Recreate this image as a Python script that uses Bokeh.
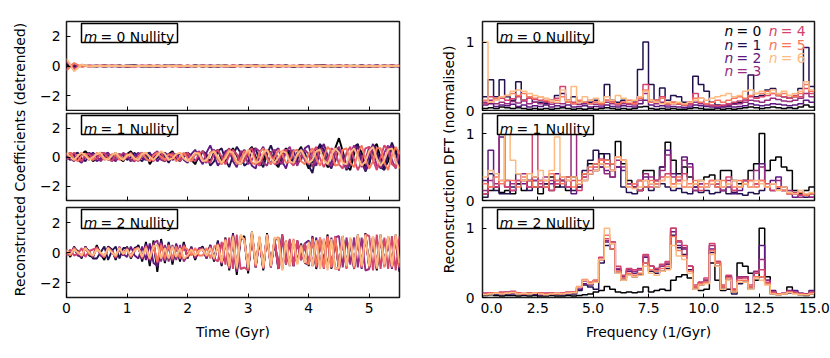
import math
import numpy as np
from bokeh.plotting import figure
from bokeh.layouts import row, column
from bokeh.models import Range1d, FixedTicker, Label, BoxAnnotation
from bokeh.embed import file_html
from bokeh.resources import INLINE

# ---------------- data ----------------
n_labels = ["0", "1", "2", "3", "4", "5", "6"]
colors = ["#000004", "#231151", "#5f187f", "#982d80", "#d3436e", "#f8765c", "#febb81"]
m_labels = ["0", "1", "2"]

time_max = 5.5
freq_step = 0.25
coef_ticks_x = [0, 1, 2, 3, 4, 5]
coef_ticks_y = [-2, 0, 2]
dft_ticks_x = [0, 2.5, 5, 7.5, 10, 12.5, 15]
dft_ticks_y = [0, 1]

# m = 0 reconstructed coefficients (detrended)
m0_n0 = [0.1, -0.05, 0.02, 0.0, -0.04, 0.03, -0.02, 0.04, -0.05, 0.02, 0.0, -0.06, 0.03, -0.02, 0.05, -0.04, 0.02, -0.03, 0.04, -0.06, 0.03, 0.0, -0.05, 0.04, -0.03, 0.05, -0.06, 0.02, -0.02, 0.04, -0.05, 0.03, -0.04, 0.02, 0.05, -0.06, 0.03, -0.02, 0.04, -0.05, 0.02, -0.03, 0.04, -0.06, 0.02]
m0_n1 = [0.2, -0.1, 0.03, -0.02, 0.04, -0.05, 0.02, -0.06, 0.03, 0.05, -0.04, 0.02, -0.05, 0.04, -0.02, 0.03, -0.06, 0.05, -0.03, 0.02, -0.05, 0.06, -0.04, 0.03, -0.07, 0.04, -0.02, 0.05, -0.06, 0.03, -0.04, 0.05, -0.03, 0.04, -0.06, 0.02, -0.05, 0.04, -0.03, 0.05, -0.07, 0.03, -0.04, 0.05, -0.03]
m0_n2 = [-0.2, 0.08, -0.03, 0.04, -0.02, 0.05, -0.04, 0.03, -0.05, 0.02, -0.03, 0.05, -0.06, 0.03, -0.02, 0.04, -0.05, 0.03, -0.04, 0.05, -0.03, 0.02, -0.06, 0.04, -0.02, 0.03, -0.05, 0.06, -0.03, 0.02, -0.04, 0.05, -0.06, 0.03, -0.02, 0.04, -0.05, 0.03, -0.06, 0.04, -0.02, 0.05, -0.04, 0.03, -0.05]
m0_n3 = [0.3, -0.15, 0.05, -0.03, 0.02, -0.04, 0.05, -0.02, 0.03, -0.05, 0.04, -0.03, 0.02, -0.05, 0.06, -0.03, 0.02, -0.04, 0.05, -0.02, 0.03, -0.06, 0.04, -0.03, 0.05, -0.02, 0.03, -0.05, 0.04, -0.06, 0.02, -0.03, 0.05, -0.04, 0.03, -0.02, 0.06, -0.04, 0.02, -0.05, 0.03, -0.04, 0.06, -0.02, 0.03]
m0_n4 = [0.35, -0.25, 0.08, -0.04, 0.03, -0.02, 0.04, -0.03, 0.02, -0.04, 0.03, -0.02, 0.04, -0.03, 0.02, -0.05, 0.03, -0.02, 0.04, -0.03, 0.02, -0.04, 0.05, -0.02, 0.03, -0.04, 0.02, -0.03, 0.05, -0.02, 0.03, -0.05, 0.02, -0.03, 0.04, -0.02, 0.03, -0.04, 0.02, -0.03, 0.04, -0.05, 0.02, -0.03, 0.04]
m0_n5 = [-0.3, 0.2, -0.06, 0.03, -0.02, 0.03, -0.02, 0.02, -0.03, 0.02, -0.02, 0.03, -0.02, 0.02, -0.03, 0.03, -0.02, 0.02, -0.03, 0.02, -0.02, 0.03, -0.03, 0.02, -0.02, 0.03, -0.02, 0.02, -0.03, 0.02, -0.02, 0.03, -0.02, 0.03, -0.03, 0.02, -0.02, 0.03, -0.02, 0.02, -0.03, 0.02, -0.02, 0.03, -0.02]
m0_n6 = [0.5, -0.35, 0.1, -0.04, 0.02, -0.02, 0.02, -0.01, 0.02, -0.02, 0.01, -0.02, 0.02, -0.01, 0.02, -0.02, 0.01, -0.02, 0.02, -0.01, 0.02, -0.02, 0.01, -0.02, 0.02, -0.01, 0.02, -0.02, 0.01, -0.02, 0.02, -0.01, 0.02, -0.02, 0.01, -0.02, 0.02, -0.01, 0.02, -0.02, 0.01, -0.02, 0.02, -0.01, 0.02]

# m = 1 reconstructed coefficients (detrended)
m1_n0 = [0.1, 0.3, 0.0, -0.2, 0.2, 0.4, 0.1, -0.3, -0.1, 0.3, 0.2, -0.2, 0.0, 0.3, -0.1, -0.3,
         0.2, 0.4, 0.0, -0.2, 0.1, 0.3, -0.5, -0.1, 0.3, 0.1, -0.3, 0.2, 0.4, -0.1, -0.3, 0.2,
         0.3, -0.2, -0.5, 0.1, 0.4, 0.0, -0.3, 0.3, 0.5, -0.2, -0.4, 0.2, 0.6, 0.1, -0.5, -0.2,
         0.4, 0.7, 0.0, -0.6, -0.3, 0.5, 0.3, -0.4, -0.7, 0.2, 0.6, 0.1, -0.5, 0.3, 0.7, -0.2,
         -0.8, -0.3, 0.5, 0.8, 0.0, -0.7, -0.5, 0.6, 1.3, 0.4, -0.6, -0.9, 0.2, 0.8, 0.3, -0.7,
         -0.5, 0.6, 0.9, -0.1, -0.8, -0.3, 0.7, 0.5, -0.6]
m1_n1 = [0.0, -0.2, 0.2, 0.3, -0.1, -0.3, 0.1, 0.3, 0.0, -0.2, 0.2, 0.1, -0.3, 0.0, 0.2, 0.1,
         -0.2, 0.0, 0.3, -0.1, -0.3, 0.2, 0.3, -0.2, -0.1, 0.3, 0.0, -0.4, 0.1, 0.2, -0.2, 0.0,
         0.3, 0.1, -0.3, -0.1, 0.4, 0.2, -0.6, -0.3, 0.4, 0.6, -0.2, -0.7, 0.1, 0.7, 0.3, -0.6,
         -0.4, 0.5, 0.6, -0.3, -0.7, 0.2, 0.8, 0.1, -0.6, -0.3, 0.5, 0.4, -0.5, -0.2, 0.6, 0.3,
         -0.6, -1.1, 0.2, 0.9, 0.5, -0.4, -0.8, 0.3, 0.6, -0.2, -0.9, -0.4, 0.7, 0.9, -0.3, -1.0,
         -0.4, 0.8, 0.5, -0.7, -0.9, 0.2, 1.0, 0.3, -0.5]
m1_n2 = [-0.1, 0.2, 0.1, -0.2, -0.4, 0.0, 0.3, 0.1, -0.3, -0.1, 0.2, 0.3, -0.1, -0.3, 0.1, 0.2,
         0.0, -0.3, 0.1, 0.3, -0.1, -0.2, 0.2, 0.1, -0.3, 0.0, 0.3, 0.1, -0.2, -0.1, 0.3, -0.2,
         -0.4, 0.2, 0.5, -0.1, -0.5, 0.3, 0.8, 0.1, -0.6, -0.2, 0.4, 0.5, -0.3, -0.7, 0.2, 0.5,
         0.0, -0.6, -0.8, 0.3, 0.7, 0.0, -0.5, 0.4, 0.6, -0.3, -0.8, 0.1, 0.5, -0.4, -0.2, 0.6,
         0.8, -0.2, -0.6, 0.4, 0.9, 0.1, -0.7, -0.3, 0.5, 0.2, -0.8, -0.5, 0.6, 0.7, -0.4, -0.9,
         0.2, 0.9, 0.1, -0.8, -0.5, 0.6, 0.8, -0.3, -0.6]
m1_n3 = [0.2, -0.1, -0.3, 0.1, 0.3, 0.0, -0.2, 0.2, 0.1, -0.3, 0.0, 0.2, 0.1, -0.2, -0.1, 0.3,
         0.1, -0.2, -0.3, 0.2, 0.3, -0.1, -0.3, 0.2, 0.4, -0.2, -0.3, 0.1, 0.3, 0.0, -0.2, 0.2,
         0.1, -0.3, 0.2, 0.4, -0.2, -0.4, 0.3, 0.5, -0.1, -0.5, 0.2, 0.6, 0.0, -0.4, 0.4, 0.3,
         -0.5, -0.2, 0.6, 0.4, -0.4, -0.6, 0.3, 0.5, -0.2, -0.5, 0.4, 0.7, -0.1, -0.6, 0.1, 0.5,
         0.2, -0.7, -0.1, 0.6, 0.3, -0.5, -0.6, 0.4, 0.7, -0.3, -0.8, 0.2, 0.8, 0.1, -0.7, -0.2,
         0.7, 0.4, -0.6, -0.7, 0.3, 0.8, -0.2, -0.8, 0.4]
m1_n4 = [-0.2, 0.1, 0.3, 0.0, -0.3, 0.2, 0.2, -0.2, -0.1, 0.2, 0.3, -0.1, -0.3, 0.1, 0.2, -0.2,
         0.0, 0.3, -0.1, -0.3, 0.1, 0.2, 0.0, -0.3, 0.2, 0.3, -0.2, -0.2, 0.2, 0.1, -0.3, 0.1,
         0.3, -0.1, -0.3, 0.2, 0.4, -0.2, -0.4, 0.2, 0.5, 0.0, -0.5, 0.1, 0.5, 0.2, -0.4, -0.3,
         0.4, 0.6, -0.2, -0.6, 0.1, 0.5, 0.2, -0.5, -0.4, 0.4, 0.5, -0.3, -0.6, 0.2, 0.4, -0.2,
         -0.5, 0.3, 0.7, -0.1, -0.7, -0.2, 0.6, 0.4, -0.5, -0.8, 0.3, 0.7, -0.2, -0.9, -0.3, 0.6,
         0.7, -0.2, -0.9, 0.0, 0.8, 0.5, -0.5, -0.7, 0.5]
m1_n5 = [0.1, 0.3, -0.1, -0.3, 0.1, 0.2, -0.1, -0.2, 0.3, 0.1, -0.2, -0.1, 0.2, 0.2, -0.2, -0.1,
         0.2, 0.1, -0.2, 0.0, 0.3, -0.1, -0.3, 0.1, 0.3, 0.0, -0.2, 0.2, 0.1, -0.3, 0.0, 0.3,
         -0.1, -0.3, 0.2, 0.3, -0.2, -0.3, 0.3, 0.4, -0.2, -0.5, 0.1, 0.5, 0.1, -0.5, -0.2, 0.4,
         0.3, -0.4, -0.5, 0.3, 0.6, -0.1, -0.5, 0.0, 0.5, 0.2, -0.4, -0.3, 0.4, 0.5, -0.3, -0.5,
         0.2, 0.6, -0.1, -0.6, 0.0, 0.7, 0.4, -0.6, -0.5, 0.5, 0.6, -0.4, -0.7, 0.3, 0.8, -0.1,
         -0.8, -0.3, 0.6, 0.6, -0.4, -0.9, 0.1, 0.7, 0.2]
m1_n6 = [0.3, 0.0, -0.2, 0.1, 0.3, 0.1, -0.2, 0.0, 0.2, 0.3, -0.1, -0.2, 0.1, 0.3, 0.0, -0.2,
         0.1, 0.2, -0.1, -0.2, 0.2, 0.3, 0.0, -0.2, 0.1, 0.4, 0.2, -0.2, -0.1, 0.2, 0.3, -0.1,
         -0.3, 0.0, 0.3, 0.2, -0.3, -0.2, 0.2, 0.4, 0.0, -0.4, -0.1, 0.4, 0.3, -0.3, -0.5, 0.1,
         0.5, 0.2, -0.4, -0.3, 0.3, 0.5, -0.1, -0.4, 0.0, 0.4, 0.3, -0.3, -0.4, 0.2, 0.5, 0.0,
         -0.4, -0.2, 0.4, 0.5, -0.2, -0.5, 0.1, 0.6, 0.3, -0.4, -0.5, 0.3, 0.6, 0.0, -0.6, -0.3,
         0.4, 0.7, -0.1, -0.6, -0.2, 0.5, 0.6, -0.3, -0.8]

# m = 2 reconstructed coefficients (detrended)
m2_n0 = [0.2, -0.3, 0.3, 0.1, -0.4, 0.4, -0.2, -0.3, 0.5, -0.1, -0.5, 0.4, 0.2, -0.5, 0.3, -0.2,
         0.4, -0.4, 0.1, 0.5, -0.6, 0.7, -0.9, 0.8, -1.3, 0.9, -0.7, 0.6, -0.8, 0.5, -0.6, 0.7,
         -0.4, 0.3, -0.5, 0.2, 0.4, -0.3, 0.5, -0.6, 0.7, -0.9, 1.0, -1.2, 1.2, -1.5, 0.9, 1.1,
         -1.4, 1.4, -0.8, 0.9, -1.2, 1.3, -0.9, 0.7, -1.1, 1.2, -0.6, 0.8, -0.9, 0.7, -0.5, 0.6,
         -0.9, 1.0, -1.1, 0.8, -0.7, 1.2, -1.0, 0.9, -1.2, 1.1, -0.8, 0.7, -1.1, 1.2, -0.9, 1.3,
         -1.0, 0.9, -1.2, 1.1, -0.7, 1.0, -0.9, 1.2, -1.3]
m2_n1 = [0.1, -0.2, 0.4, -0.1, -0.3, 0.3, 0.1, -0.4, -0.4, 0.0, 0.4, -0.5, 0.1, 0.4, -0.4, 0.3,
         0.3, -0.3, 0.3, 0.4, -0.5, 0.6, -0.7, 0.6, -1.0, 0.8, -0.5, 0.7, -0.6, 0.4, -0.5, 0.6,
         -0.3, 0.4, -0.4, 0.1, 0.3, -0.4, 0.4, -0.5, 0.8, -0.8, 0.9, -1.1, 1.3, -1.2, 1.0, 0.9,
         -1.2, 1.3, -1.0, 1.0, -1.1, 1.1, -1.0, 0.8, 1.0, -1.1, 0.7, -0.9, 0.8, -0.6, 0.6, -0.7,
         -0.8, 1.1, -1.0, 0.9, -0.8, 1.1, -1.1, 1.0, -1.1, 1.0, -0.9, 0.8, -1.0, 1.1, -1.0, 1.2,
         -0.9, 1.0, -1.1, 1.2, -0.8, 0.9, -1.0, 1.1, -1.2]
m2_n2 = [0.2, -0.1, 0.3, -0.2, -0.3, 0.4, -0.1, -0.3, 0.4, -0.2, -0.3, 0.4, 0.1, -0.4, 0.3, -0.1,
         -0.3, 0.4, -0.2, -0.4, 0.4, -0.5, 0.6, -0.7, -0.9, 0.7, -0.6, 0.5, -0.6, 0.6, -0.4, 0.5,
         -0.3, 0.3, -0.4, 0.3, 0.2, -0.4, 0.5, -0.5, 0.6, -0.8, 0.9, -1.0, 1.1, -1.3, 1.1, 0.8,
         -1.2, 1.2, -1.0, 0.8, -1.0, 1.2, -0.8, 0.9, -1.1, 1.0, -0.8, 0.7, -0.9, 0.8, -0.4, 0.6,
         0.8, -0.9, 1.0, -1.0, 0.9, -1.0, 1.0, -1.1, -1.0, 0.9, -1.0, 0.9, -0.9, 1.0, -1.1, 1.1,
         -1.0, 1.1, -1.0, 1.0, -0.9, 1.1, -1.1, 1.0, -1.1]
m2_n3 = [0.1, -0.2, 0.3, 0.0, -0.3, 0.3, 0.0, -0.3, 0.3, -0.1, -0.3, 0.3, 0.1, -0.3, 0.4, -0.2,
         0.3, -0.3, 0.2, 0.3, -0.4, 0.5, -0.5, 0.6, 0.8, -0.6, 0.5, -0.6, 0.5, -0.5, 0.5, -0.6,
         -0.2, 0.3, -0.3, 0.2, 0.3, -0.3, 0.4, -0.5, 0.6, -0.7, 0.9, -1.1, 1.2, -1.2, 1.0, 0.9,
         -1.1, 1.3, -0.9, 0.9, -1.0, 1.1, -0.9, 0.8, -1.0, 1.1, -0.7, 0.8, -0.8, 0.7, -0.5, 0.5,
         -0.7, 1.0, -0.9, 0.9, -1.0, 1.1, -0.9, 1.0, 1.1, -1.0, 1.0, -0.8, 1.0, -1.0, 1.0, -1.2,
         -1.1, 1.0, -1.0, 1.1, -0.9, 1.0, -1.0, 1.1, -1.0]
m2_n4 = [-0.2, 0.2, -0.2, -0.1, 0.3, -0.3, 0.1, 0.2, 0.3, -0.1, -0.3, 0.3, 0.1, -0.3, 0.3, -0.1,
         0.3, -0.3, 0.2, 0.3, -0.4, 0.4, -0.5, 0.5, -0.7, 0.6, -0.5, 0.5, -0.5, 0.4, -0.4, 0.5,
         -0.3, 0.2, -0.3, 0.2, 0.2, -0.3, 0.4, -0.4, -0.6, 0.7, -0.8, 1.0, -1.1, 1.2, -1.1, -1.0,
         -1.2, 1.2, -1.0, 1.0, -1.1, 1.2, -1.0, 0.9, -1.1, 1.2, -0.8, 0.9, -0.9, 0.8, -0.5, 0.6,
         -0.8, 1.0, -1.0, 1.0, -1.1, 1.0, -1.0, 1.1, -1.2, 1.0, -1.1, 0.9, -1.1, 1.1, -1.0, 1.2,
         1.1, -1.2, 1.2, -1.1, 1.0, -1.1, 1.1, -1.2, 1.1]
m2_n5 = [0.1, -0.2, 0.3, 0.0, -0.2, 0.3, -0.1, -0.2, 0.3, 0.0, -0.3, 0.3, 0.0, -0.3, 0.3, -0.1,
         0.2, -0.3, 0.2, 0.3, -0.3, 0.4, -0.4, 0.5, -0.6, 0.5, -0.4, 0.5, -0.4, 0.4, -0.4, 0.4,
         0.2, -0.2, 0.3, -0.2, -0.2, 0.3, -0.4, 0.4, 0.5, -0.7, 0.9, -1.0, 1.1, -1.1, 1.0, 0.9,
         -1.1, 1.2, -0.9, 1.0, -1.0, 1.1, -0.9, 0.9, 1.0, -1.1, 0.8, -0.8, 0.9, -0.7, 0.5, -0.6,
         -0.8, 0.9, -0.9, 1.0, -1.0, 1.1, -1.0, 1.0, -1.1, 1.0, -1.0, 0.9, -1.0, 1.1, -1.0, 1.1,
         -1.0, 1.1, -1.1, 1.0, -1.0, 1.1, -1.0, 1.1, -1.0]
m2_n6 = [0.2, -0.1, 0.2, 0.0, -0.2, 0.3, 0.0, -0.2, 0.2, 0.0, -0.2, 0.3, 0.0, -0.2, 0.3, -0.1,
         0.2, -0.2, 0.1, 0.3, -0.3, 0.3, -0.4, 0.4, 0.5, -0.4, 0.3, -0.4, 0.4, -0.3, 0.3, -0.4,
         -0.2, 0.2, -0.2, 0.1, 0.2, -0.2, 0.3, -0.4, 0.5, -0.6, 0.8, -0.9, 1.0, -1.0, 1.2, 0.8,
         -1.0, 1.4, -0.8, 1.1, -1.0, 1.2, -0.9, 1.0, 0.9, -1.2, 0.7, -0.9, 0.8, -0.8, 0.4, -0.7,
         0.7, -0.9, 0.8, -1.1, 0.9, -1.2, 0.9, -1.1, -1.0, 1.1, -0.9, 1.0, -0.9, 1.2, -0.9, 1.2,
         -0.9, 1.1, -1.0, 1.2, -0.8, 1.1, -0.9, 1.2, -0.7]

# normalised DFT amplitudes, one value per frequency bin (0 - 15 /Gyr)
dft_m0_n0 = [0.03, 0.04, 0.03, 0.05, 0.04, 0.03, 0.04, 0.03, 0.02, 0.03,
             0.02, 0.03, 0.02, 0.03, 0.04, 0.03, 0.02, 0.03, 0.02, 0.03,
             0.02, 0.03, 0.04, 0.03, 0.02, 0.03, 0.02, 0.03, 0.05, 0.06,
             0.03, 0.02, 0.03, 0.02, 0.03, 0.02, 0.02, 0.03, 0.04, 0.03,
             0.02, 0.02, 0.03, 0.02, 0.03, 0.02, 0.03, 0.04, 0.05, 0.04,
             0.03, 0.04, 0.05, 0.04, 0.03, 0.04, 0.03, 0.05, 0.08, 0.05]
dft_m0_n1 = [0.2, 0.45, 0.2, 0.45, 0.2, 0.15, 0.42, 0.15, 0.18, 0.12,
             0.12, 0.1, 0.15, 0.22, 0.25, 0.15, 0.2, 0.12, 0.1, 0.12,
             0.15, 0.1, 0.38, 0.15, 0.12, 0.15, 0.1, 0.12, 0.6, 1.0,
             0.38, 0.15, 0.33, 0.15, 0.22, 0.2, 0.12, 0.12, 0.5, 0.38,
             0.28, 0.12, 0.08, 0.06, 0.08, 0.1, 0.12, 0.15, 0.52, 0.2,
             0.22, 0.3, 0.32, 0.22, 0.2, 0.18, 0.2, 0.32, 0.92, 0.35]
dft_m0_n2 = [0.08, 0.1, 0.06, 0.08, 0.07, 0.09, 0.06, 0.08, 0.05, 0.07,
             0.06, 0.08, 0.05, 0.07, 0.06, 0.08, 0.05, 0.06, 0.07, 0.05,
             0.06, 0.05, 0.08, 0.06, 0.05, 0.07, 0.06, 0.05, 0.1, 0.15,
             0.08, 0.06, 0.07, 0.05, 0.06, 0.05, 0.04, 0.05, 0.08, 0.07,
             0.06, 0.05, 0.04, 0.05, 0.06, 0.05, 0.06, 0.07, 0.1, 0.08,
             0.07, 0.08, 0.1, 0.09, 0.08, 0.07, 0.08, 0.1, 0.15, 0.12]
dft_m0_n3 = [0.12, 0.15, 0.1, 0.12, 0.1, 0.13, 0.11, 0.14, 0.1, 0.12,
             0.1, 0.12, 0.09, 0.11, 0.1, 0.12, 0.1, 0.09, 0.11, 0.1,
             0.09, 0.08, 0.12, 0.1, 0.08, 0.1, 0.09, 0.08, 0.15, 0.25,
             0.12, 0.1, 0.12, 0.08, 0.1, 0.09, 0.07, 0.08, 0.12, 0.1,
             0.08, 0.07, 0.06, 0.07, 0.08, 0.09, 0.1, 0.12, 0.15, 0.14,
             0.12, 0.15, 0.18, 0.16, 0.14, 0.13, 0.15, 0.18, 0.25, 0.2]
dft_m0_n4 = [0.1, 0.2, 0.15, 0.18, 0.15, 0.17, 0.2, 0.15, 0.18, 0.16,
             0.15, 0.13, 0.15, 0.18, 0.35, 0.15, 0.12, 0.14, 0.12, 0.15,
             0.12, 0.1, 0.15, 0.13, 0.1, 0.12, 0.1, 0.12, 0.2, 0.38,
             0.15, 0.12, 0.2, 0.1, 0.12, 0.1, 0.08, 0.1, 0.25, 0.18,
             0.1, 0.08, 0.07, 0.08, 0.1, 0.12, 0.14, 0.15, 0.2, 0.18,
             0.2, 0.22, 0.25, 0.22, 0.2, 0.18, 0.22, 0.2, 0.32, 0.25]
dft_m0_n5 = [0.15, 0.12, 0.18, 0.2, 0.22, 0.25, 0.22, 0.25, 0.2, 0.18,
             0.2, 0.15, 0.12, 0.15, 0.2, 0.12, 0.1, 0.15, 0.12, 0.1,
             0.12, 0.1, 0.15, 0.12, 0.1, 0.12, 0.15, 0.1, 0.18, 0.3,
             0.12, 0.15, 0.18, 0.1, 0.12, 0.1, 0.08, 0.12, 0.18, 0.12,
             0.1, 0.12, 0.15, 0.12, 0.15, 0.18, 0.2, 0.18, 0.22, 0.25,
             0.25, 0.28, 0.25, 0.22, 0.25, 0.22, 0.2, 0.25, 0.38, 0.28]
dft_m0_n6 = [1.0, 0.12, 0.15, 0.2, 0.22, 0.28, 0.3, 0.28, 0.25, 0.22,
             0.2, 0.18, 0.15, 0.12, 0.3, 0.15, 0.35, 0.12, 0.2, 0.15,
             0.18, 0.12, 0.2, 0.15, 0.22, 0.18, 0.12, 0.15, 0.2, 0.28,
             0.15, 0.12, 0.1, 0.12, 0.1, 0.12, 0.1, 0.12, 0.15, 0.18,
             0.15, 0.18, 0.2, 0.22, 0.25, 0.2, 0.22, 0.28, 0.3, 0.25,
             0.28, 0.25, 0.3, 0.25, 0.28, 0.22, 0.25, 0.28, 0.42, 0.3]

dft_m1_n0 = [0.1, 0.15, 0.2, 0.12, 0.15, 0.1, 0.25, 0.15, 0.3, 0.2,
             0.1, 0.25, 0.35, 0.2, 0.3, 0.15, 0.35, 0.2, 0.4, 0.55,
             0.55, 0.7, 0.6, 0.55, 0.88, 0.55, 0.3, 0.2, 0.15, 0.45,
             0.45, 0.3, 0.5, 0.87, 0.6, 0.4, 0.5, 0.35, 0.2, 0.3,
             0.35, 0.38, 0.25, 0.45, 0.45, 0.3, 0.25, 0.3, 0.45, 0.55,
             1.0, 0.45, 0.6, 0.65, 0.5, 0.45, 0.15, 0.1, 0.15, 0.2]
dft_m1_n1 = [0.05, 0.4, 0.15, 0.1, 0.1, 0.2, 0.25, 0.3, 0.15, 0.3,
             0.2, 0.25, 0.15, 0.3, 0.2, 0.35, 0.15, 0.2, 0.45, 0.6,
             0.75, 0.5, 0.7, 0.45, 0.5, 0.2, 0.12, 0.1, 0.15, 0.2,
             0.15, 0.2, 0.25, 0.2, 0.15, 0.18, 0.12, 0.1, 0.15, 0.12,
             0.15, 0.1, 0.12, 0.15, 0.1, 0.12, 0.1, 0.08, 0.12, 0.1,
             0.15, 0.2, 0.15, 0.18, 0.15, 0.12, 0.1, 0.08, 0.05, 0.1]
dft_m1_n2 = [0.3, 0.75, 0.2, 0.95, 0.3, 0.15, 0.4, 0.25, 0.3, 0.35,
             0.3, 0.2, 0.25, 0.4, 0.3, 0.2, 0.1, 0.25, 0.3, 0.4,
             0.45, 0.5, 0.45, 0.35, 0.5, 0.45, 0.25, 0.2, 0.3, 0.35,
             0.25, 0.3, 0.5, 0.75, 0.4, 0.3, 0.65, 0.55, 0.2, 0.25,
             0.2, 0.25, 0.3, 0.15, 0.2, 0.1, 0.15, 0.3, 0.2, 0.25,
             0.55, 0.2, 0.3, 0.35, 0.2, 0.1, 0.05, 0.08, 0.1, 0.05]
dft_m1_n3 = [0.15, 0.3, 0.25, 1.0, 0.2, 0.25, 0.3, 0.4, 0.2, 0.3,
             0.25, 0.35, 0.3, 0.25, 0.3, 0.3, 1.0, 0.25, 0.35, 0.4,
             0.45, 0.55, 0.4, 0.35, 0.6, 0.5, 0.25, 0.2, 0.3, 0.4,
             0.35, 0.25, 0.45, 0.68, 0.35, 0.3, 0.6, 0.5, 0.15, 0.25,
             0.2, 0.25, 0.2, 0.15, 0.3, 0.15, 0.2, 0.25, 0.3, 0.45,
             0.5, 0.2, 0.25, 0.3, 0.2, 0.15, 0.1, 0.05, 0.08, 0.05]
dft_m1_n4 = [0.1, 0.2, 0.2, 0.3, 0.2, 0.15, 0.3, 0.3, 0.2, 1.0,
             0.2, 0.3, 0.15, 0.25, 0.35, 0.2, 0.3, 0.15, 0.35, 0.45,
             0.5, 0.62, 0.55, 0.45, 0.65, 0.6, 0.2, 0.25, 0.15, 0.3,
             0.2, 0.3, 0.35, 0.4, 0.25, 0.3, 0.4, 0.2, 0.25, 0.15,
             0.2, 0.3, 0.25, 0.2, 0.35, 0.15, 0.2, 0.3, 0.2, 0.25,
             0.3, 0.25, 0.15, 0.2, 0.15, 0.1, 0.12, 0.08, 0.1, 0.1]
dft_m1_n5 = [0.25, 0.2, 0.35, 0.25, 0.3, 0.3, 0.2, 0.35, 0.3, 0.2,
             0.3, 0.2, 0.4, 0.3, 0.25, 0.35, 0.2, 0.3, 0.4, 0.5,
             0.55, 0.6, 0.6, 0.55, 0.65, 0.6, 0.2, 0.25, 0.3, 0.2,
             0.3, 0.25, 0.3, 0.35, 0.25, 0.35, 0.2, 0.25, 0.3, 0.2,
             0.25, 0.3, 0.2, 0.3, 0.25, 0.2, 0.3, 0.25, 0.3, 0.2,
             0.3, 0.2, 0.25, 0.2, 0.15, 0.1, 0.1, 0.12, 0.08, 0.1]
dft_m1_n6 = [0.35, 0.45, 0.4, 0.3, 1.0, 0.6, 0.4, 0.3, 0.4, 0.35,
             0.45, 0.3, 0.45, 0.95, 0.35, 0.3, 0.35, 0.25, 0.3, 0.4,
             0.45, 0.55, 0.5, 0.45, 0.65, 0.6, 0.2, 0.18, 0.2, 0.3,
             0.25, 0.2, 0.3, 0.35, 0.2, 0.25, 0.3, 0.2, 0.25, 0.3,
             0.2, 0.25, 0.3, 0.2, 0.25, 0.3, 0.2, 0.25, 0.2, 0.3,
             0.25, 0.2, 0.25, 0.15, 0.2, 0.12, 0.1, 0.15, 0.1, 0.12]

dft_m2_n0 = [0.03, 0.04, 0.03, 0.02, 0.03, 0.03, 0.02, 0.03, 0.02, 0.03, 0.02, 0.02, 0.03, 0.02, 0.02, 0.03,
             0.02, 0.03, 0.04, 0.05, 0.08, 0.1, 0.16, 0.12, 0.08, 0.07, 0.08, 0.07, 0.08, 0.15, 0.08, 0.1,
             0.12, 0.1, 0.25, 0.3, 0.33, 0.28, 0.15, 0.1, 0.12, 0.5, 0.25, 0.1, 0.12, 0.08, 0.5, 0.45,
             0.35, 0.25, 1.0, 0.3, 0.08, 0.05, 0.05, 0.15, 0.06, 0.04, 0.03, 0.05]
dft_m2_n1 = [0.05, 0.06, 0.05, 0.04, 0.05, 0.06, 0.05, 0.04, 0.05, 0.04, 0.05, 0.04, 0.04, 0.05, 0.04, 0.05,
             0.05, 0.1, 0.18, 0.15, 0.12, 0.5, 0.75, 0.7, 0.35, 0.25, 0.32, 0.3, 0.33, 0.5, 0.38, 0.35,
             0.38, 0.42, 0.9, 0.72, 0.62, 0.4, 0.12, 0.18, 0.22, 0.65, 0.45, 0.12, 0.25, 0.05, 0.2, 0.22,
             0.12, 0.3, 0.3, 0.2, 0.05, 0.04, 0.05, 0.06, 0.07, 0.05, 0.04, 0.05]
dft_m2_n2 = [0.06, 0.05, 0.06, 0.05, 0.07, 0.05, 0.06, 0.05, 0.06, 0.05, 0.04, 0.05, 0.06, 0.05, 0.05, 0.06,
             0.06, 0.12, 0.2, 0.18, 0.22, 0.55, 0.8, 0.78, 0.4, 0.28, 0.38, 0.35, 0.4, 0.58, 0.45, 0.4,
             0.45, 0.48, 0.95, 0.75, 0.7, 0.45, 0.15, 0.2, 0.25, 0.7, 0.5, 0.15, 0.3, 0.1, 0.28, 0.3,
             0.15, 0.35, 0.75, 0.25, 0.1, 0.05, 0.06, 0.08, 0.1, 0.06, 0.05, 0.1]
dft_m2_n3 = [0.05, 0.06, 0.07, 0.06, 0.08, 0.07, 0.06, 0.05, 0.06, 0.07, 0.05, 0.06, 0.05, 0.06, 0.06, 0.07,
             0.08, 0.14, 0.24, 0.2, 0.24, 0.55, 0.82, 0.8, 0.42, 0.3, 0.4, 0.38, 0.42, 0.6, 0.45, 0.42,
             0.45, 0.5, 1.0, 0.8, 0.72, 0.45, 0.15, 0.22, 0.25, 0.75, 0.52, 0.15, 0.3, 0.12, 0.3, 0.3,
             0.15, 0.38, 0.55, 0.25, 0.08, 0.05, 0.05, 0.1, 0.08, 0.06, 0.05, 0.08]
dft_m2_n4 = [0.06, 0.07, 0.06, 0.08, 0.07, 0.09, 0.07, 0.06, 0.07, 0.06, 0.07, 0.06, 0.07, 0.06, 0.07, 0.08,
             0.08, 0.15, 0.25, 0.22, 0.25, 0.58, 0.85, 0.8, 0.45, 0.32, 0.42, 0.4, 0.4, 0.62, 0.45, 0.42,
             0.48, 0.52, 1.0, 0.82, 0.75, 0.45, 0.18, 0.22, 0.28, 0.78, 0.52, 0.18, 0.32, 0.12, 0.28, 0.28,
             0.18, 0.35, 0.4, 0.22, 0.08, 0.05, 0.06, 0.08, 0.06, 0.05, 0.05, 0.07]
dft_m2_n5 = [0.05, 0.06, 0.07, 0.06, 0.07, 0.08, 0.06, 0.05, 0.06, 0.07, 0.06, 0.05, 0.06, 0.05, 0.06, 0.07,
             0.08, 0.16, 0.26, 0.22, 0.25, 0.55, 0.9, 0.7, 0.38, 0.28, 0.35, 0.32, 0.35, 0.5, 0.4, 0.38,
             0.42, 0.45, 0.88, 0.68, 0.6, 0.38, 0.15, 0.2, 0.22, 0.68, 0.5, 0.15, 0.28, 0.1, 0.25, 0.25,
             0.15, 0.3, 0.3, 0.2, 0.06, 0.05, 0.05, 0.08, 0.06, 0.05, 0.04, 0.06]
dft_m2_n6 = [0.04, 0.05, 0.06, 0.05, 0.06, 0.07, 0.05, 0.06, 0.05, 0.06, 0.05, 0.04, 0.05, 0.06, 0.05, 0.06,
             0.07, 0.15, 0.25, 0.2, 0.22, 0.55, 1.0, 0.78, 0.35, 0.25, 0.32, 0.3, 0.32, 0.45, 0.35, 0.32,
             0.38, 0.4, 0.75, 0.6, 0.55, 0.35, 0.12, 0.18, 0.2, 0.62, 0.45, 0.12, 0.25, 0.08, 0.22, 0.22,
             0.12, 0.28, 0.25, 0.18, 0.05, 0.04, 0.05, 0.07, 0.05, 0.04, 0.04, 0.05]

coeffs = [
    [m0_n0, m0_n1, m0_n2, m0_n3, m0_n4, m0_n5, m0_n6],
    [m1_n0, m1_n1, m1_n2, m1_n3, m1_n4, m1_n5, m1_n6],
    [m2_n0, m2_n1, m2_n2, m2_n3, m2_n4, m2_n5, m2_n6],
]
dfts = [
    [dft_m0_n0, dft_m0_n1, dft_m0_n2, dft_m0_n3, dft_m0_n4, dft_m0_n5, dft_m0_n6],
    [dft_m1_n0, dft_m1_n1, dft_m1_n2, dft_m1_n3, dft_m1_n4, dft_m1_n5, dft_m1_n6],
    [dft_m2_n0, dft_m2_n1, dft_m2_n2, dft_m2_n3, dft_m2_n4, dft_m2_n5, dft_m2_n6],
]

# ---------------- layout / style ----------------
FONT = "DejaVu Sans"
FS = "13.9px"
FRAME_H = [89, 87, 90]
BORDER_T = [21, 2, 4]
BORDER_B = [1, 3, 61]
LEFT_W, LEFT_BL, LEFT_BR = 389, 36, 20
RIGHT_W, RIGHT_BL, RIGHT_BR = 350, 2, 16
LAB_L_W, LAB_R_W = 30, 61
TOTAL_H = sum(FRAME_H) + sum(BORDER_T) + sum(BORDER_B)
DFT_YMAX = 1.3


def style_axes(p, xticks, yticks, xover, yover, bottom, xlabel, show_ylabels):
    p.xaxis.ticker = FixedTicker(ticks=xticks)
    p.yaxis.ticker = FixedTicker(ticks=yticks)
    p.xaxis.major_label_overrides = xover
    p.yaxis.major_label_overrides = yover
    for ax in p.axis:
        ax.major_tick_in = 4
        ax.major_tick_out = 0
        ax.minor_tick_in = 0
        ax.minor_tick_out = 0
        ax.axis_line_color = None
        ax.major_tick_line_color = "black"
        ax.major_tick_line_width = 1
        ax.major_label_text_font = FONT
        ax.major_label_text_font_size = FS
        ax.major_label_text_color = "black"
    p.yaxis.major_label_standoff = 6
    if not show_ylabels:
        p.yaxis.major_label_text_font_size = "0px"
        p.yaxis.major_label_text_color = None
        p.yaxis.major_label_standoff = 0
    if bottom:
        p.xaxis.major_label_standoff = 5
        p.xaxis.axis_label = xlabel
        p.xaxis.axis_label_text_font = FONT
        p.xaxis.axis_label_text_font_size = FS
        p.xaxis.axis_label_text_font_style = "normal"
        p.xaxis.axis_label_text_color = "black"
        p.xaxis.axis_label_standoff = 8
    else:
        p.xaxis.major_label_text_font_size = "0px"
        p.xaxis.major_label_text_color = None
        p.xaxis.major_label_standoff = 0
    p.grid.visible = False
    p.outline_line_color = "#1a1a1a"
    p.outline_line_width = 1.5
    p.background_fill_color = "white"
    p.border_fill_color = "white"


def add_nullity_box(p, x0, x1, y0, y1, W, H, m):
    def px(o):
        return x0 + o * (x1 - x0) / W

    def py(o):
        return y1 - o * (y1 - y0) / H

    p.add_layout(BoxAnnotation(left=px(15), right=px(111), top=py(2), bottom=py(21),
                               fill_color="white", fill_alpha=1.0,
                               line_color="black", line_width=1.5, line_alpha=1.0))
    p.add_layout(Label(x=px(17.3), y=py(15), text="m", text_font=FONT, text_font_size=FS,
                       text_font_style="italic", text_baseline="alphabetic", text_align="left",
                       text_color="black"))
    p.add_layout(Label(x=px(34), y=py(15), text="= " + m + " Nullity", text_font=FONT,
                       text_font_size=FS, text_baseline="alphabetic", text_align="left",
                       text_color="black"))


left_figs = []
right_figs = []
for r in range(3):
    h = FRAME_H[r] + BORDER_T[r] + BORDER_B[r]
    # ---- left: reconstructed coefficients ----
    pl = figure(width=LEFT_W, height=h, x_range=Range1d(0, time_max), y_range=Range1d(-3, 3),
                output_backend="svg", toolbar_location=None,
                min_border_left=LEFT_BL, min_border_right=LEFT_BR,
                min_border_top=BORDER_T[r], min_border_bottom=BORDER_B[r])
    for k in range(7):
        vals = coeffs[r][k]
        t = np.linspace(0, time_max, len(vals))
        pl.line(t, vals, line_color=colors[k], line_width=1.9)
    style_axes(pl, coef_ticks_x, coef_ticks_y, {},
               {-2: "\u22122", 0: "0", 2: "2"}, r == 2, "Time (Gyr)", True)
    add_nullity_box(pl, 0, time_max, -3, 3, LEFT_W - LEFT_BL - LEFT_BR, FRAME_H[r], m_labels[r])
    left_figs.append(pl)

    # ---- right: DFT ----
    pr = figure(width=RIGHT_W, height=h, x_range=Range1d(0, 15), y_range=Range1d(0, DFT_YMAX),
                output_backend="svg", toolbar_location=None,
                min_border_left=RIGHT_BL, min_border_right=RIGHT_BR,
                min_border_top=BORDER_T[r], min_border_bottom=BORDER_B[r])
    for k in range(7):
        vals = dfts[r][k]
        edges = np.arange(len(vals) + 1) * freq_step
        pr.step(edges, list(vals) + [vals[-1]], mode="after",
                line_color=colors[k], line_width=1.5)
    style_axes(pr, dft_ticks_x, dft_ticks_y,
               {0: "0.0", 2.5: "2.5", 5: "5.0", 7.5: "7.5", 10: "10.0", 12.5: "12.5", 15: "15.0"},
               {}, r == 2, "Frequency (1/Gyr)", False)
    W_r = RIGHT_W - RIGHT_BL - RIGHT_BR
    add_nullity_box(pr, 0, 15, 0, DFT_YMAX, W_r, FRAME_H[r], m_labels[r])
    if r == 0:
        def fx(o):
            return o * 15 / W_r

        def fy(o):
            return DFT_YMAX - o * DFT_YMAX / FRAME_H[0]

        rows_off = [9, 23, 36.3, 49]
        for k in range(7):
            col = 0 if k < 4 else 1
            rr = k if k < 4 else k - 4
            x_n = 242 if col == 0 else 286.3
            pr.add_layout(Label(x=fx(x_n), y=fy(rows_off[rr]), text="n", text_font=FONT,
                                text_font_size=FS, text_font_style="italic",
                                text_baseline="alphabetic", text_color=colors[k]))
            pr.add_layout(Label(x=fx(x_n + 12), y=fy(rows_off[rr]), text="= " + n_labels[k],
                                text_font=FONT, text_font_size=FS,
                                text_baseline="alphabetic", text_color=colors[k]))
    right_figs.append(pr)


def label_fig(w, h):
    f = figure(width=w, height=h, x_range=Range1d(0, w), y_range=Range1d(0, h),
               output_backend="svg", toolbar_location=None, min_border=0,
               x_axis_type=None, y_axis_type=None)
    f.outline_line_color = None
    f.grid.visible = False
    f.background_fill_color = "white"
    f.border_fill_color = "white"
    return f


def vlabel(f, xc, yc, text):
    f.add_layout(Label(x=xc, y=yc, text=text, angle=math.pi / 2, text_align="center",
                       text_baseline="middle", text_font=FONT, text_font_size=FS,
                       text_color="black"))


lab_left = label_fig(LAB_L_W, TOTAL_H)
vlabel(lab_left, 19, TOTAL_H - 159, "Reconstructed Coefficients (detrended)")

lab_right = label_fig(LAB_R_W, TOTAL_H)
vlabel(lab_right, 29, TOTAL_H - 159, "Reconstruction DFT (normalised)")
# y tick labels of the DFT panels, placed next to each panel's frame
top = 0
for r in range(3):
    top += BORDER_T[r]
    for tv in dft_ticks_y:
        y_page = top + FRAME_H[r] * (1 - tv / DFT_YMAX)
        lab_right.add_layout(Label(x=LAB_R_W - 6, y=TOTAL_H - y_page, text=str(tv),
                                   text_align="right", text_baseline="middle",
                                   text_font=FONT, text_font_size=FS, text_color="black"))
    top += FRAME_H[r] + BORDER_B[r]

layout = row(lab_left, column(*left_figs), lab_right, column(*right_figs))

open("out.html", "w").write(file_html(layout, INLINE))
